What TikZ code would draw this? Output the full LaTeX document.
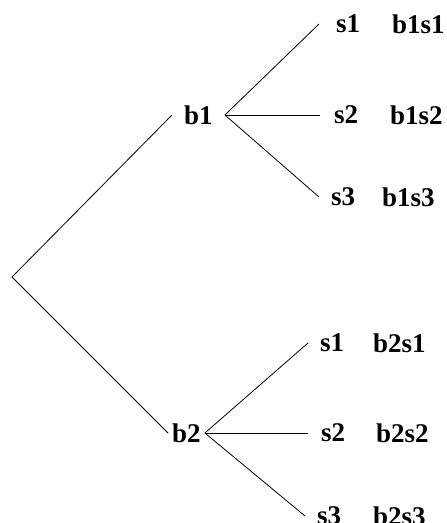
\documentclass[tikz,border=0pt]{standalone}
\usepackage{fontspec}
\setmainfont{Liberation Serif}
\usetikzlibrary{positioning}
\tikzset{
  lbl/.style={font=\fontsize{27}{30}\selectfont\bfseries, anchor=west, inner ysep=2pt},
  branchnode/.style={lbl, inner xsep=13pt},
  leafnode/.style={lbl, inner xsep=12pt},
  outcome/.style={lbl, inner xsep=0pt},
  edge/.style={draw=black, line width=0.8pt}
}
\begin{document}
\begin{tikzpicture}[x=1pt, y=-1pt]
  \useasboundingbox (0,0) rectangle (447,523);
  \coordinate (root) at (12,277);
  \node[branchnode, inner xsep=12pt] (b1) at (172,115) {b1};
  \node[branchnode, inner xsep=4pt] (b2) at (168,433) {b2};
  % b1 leaves
  \node[leafnode, inner xsep=17pt] (b1s1) at (319,24) {s1};
  \node[leafnode, inner xsep=14pt] (b1s2) at (320,115) {s2};
  \node[leafnode] (b1s3) at (319,197) {s3};
  \node[outcome] (o11) at (392,24) {b1s1};
  \node[outcome] (o12) at (390,115) {b1s2};
  \node[outcome] (o13) at (382,197) {b1s3};
  % b2 leaves
  \node[leafnode] (b2s1) at (308,343) {s1};
  \node[leafnode, inner xsep=13pt] (b2s2) at (308,433) {s2};
  \node[leafnode] (b2s3) at (305,516) {s3};
  \node[outcome] (o21) at (373,343) {b2s1};
  \node[outcome] (o22) at (376,433) {b2s2};
  \node[outcome] (o23) at (373,516) {b2s3};
  \draw[edge] (b1.west) -- (root) -- (b2.west);
  \draw[edge] (b1s1.west) -- (b1.east) -- (b1s3.west);
  \draw[edge] (b1.east) -- (b1s2.west);
  \draw[edge] (b2s1.west) -- (b2.east) -- (b2s3.west);
  \draw[edge] (b2.east) -- (b2s2.west);
\end{tikzpicture}
\end{document}
